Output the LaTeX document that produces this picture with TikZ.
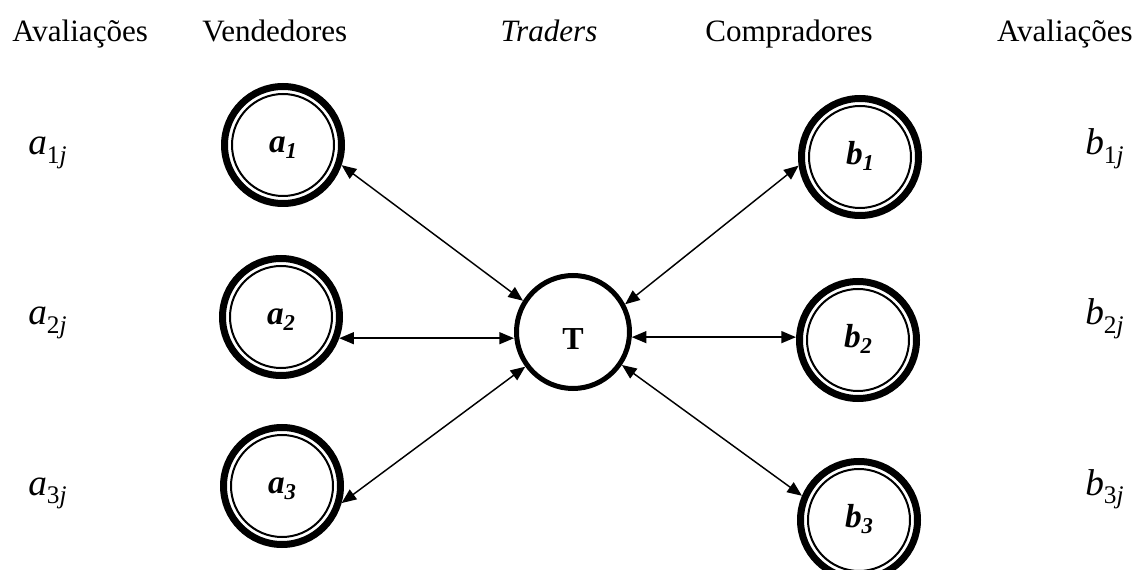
\documentclass[tikz,border=0pt]{standalone}
\usepackage{fontspec}
\setmainfont{Liberation Serif}
\usetikzlibrary{arrows.meta}

\tikzset{
  head/.style={font=\fontsize{23.3}{28}\selectfont, anchor=base, inner sep=0pt},
  val/.style={font=\fontsize{28}{32}\selectfont\itshape, anchor=base west, inner sep=0pt},
  agent/.style={circle, draw, line width=5.25pt, minimum size=87.75pt, inner sep=0pt,
    text height=11pt, text depth=0pt,
    font=\fontsize{25}{28}\selectfont\bfseries\itshape,
    path picture={\draw[line width=1.5pt] (path picture bounding box.center) circle[radius=38.25pt];}},
  trader/.style={circle, draw, line width=3.75pt, minimum size=84.75pt, inner sep=0pt,
    text height=26pt, text depth=0pt,
    font=\fontsize{24}{28}\selectfont\bfseries},
  link/.style={line width=1.1pt, {Triangle[length=11pt,width=9pt]}-{Triangle[length=11pt,width=9pt]}}
}
% subscript for the node names
\newcommand{\sub}[1]{\raisebox{-0.2em}{\fontsize{17}{17}\selectfont #1}}
% subscript "1j" etc. for the valuations
\newcommand{\vsub}[1]{\raisebox{-0.22em}{\fontsize{19}{19}\selectfont\upshape #1\itshape j}}

\begin{document}
\begin{tikzpicture}[x=0.75pt, y=-0.75pt]
\useasboundingbox (0,0) rectangle (1140,570);

% column headings
\node[head, anchor=base west] (h1) at (12,42) {Avaliações};
\node[head, anchor=base west] (h2) at (202,42) {Vendedores};
\node[head] (h3) at (549,42) {\itshape Traders};
\node[head] (h4) at (789,42) {Compradores};
\node[head, anchor=base east] (h5) at (1133,42) {Avaliações};

% valuations
\node[val] (va1) at (28,155) {a\vsub{1}};
\node[val] (va2) at (28,325) {a\vsub{2}};
\node[val] (va3) at (28,495) {a\vsub{3}};
\node[val] (vb1) at (1085,155) {b\vsub{1}};
\node[val] (vb2) at (1085,325) {b\vsub{2}};
\node[val] (vb3) at (1085,495) {b\vsub{3}};

% sellers, trader, buyers
\node[agent] (a1) at (283,145) {a\sub{1}};
\node[agent] (a2) at (281,317) {a\sub{2}};
\node[agent] (a3) at (282,486) {a\sub{3}};
\node[trader] (T) at (573,332) {T};
\node[agent] (b1) at (860,157) {b\sub{1}};
\node[agent] (b2) at (858,340) {b\sub{2}};
\node[agent] (b3) at (859,520) {b\sub{3}};

% links
\draw[link] (a1.-19) -- (T.148);
\draw[link] (a2.-20) -- (a2.-20 -| T.west);
\draw[link] (a3.-16) -- (T.216);
\draw[link] (T.28) -- (b1.188);
\draw[link] (T.-5) -- (T.-5 -| b2.west);
\draw[link] (T.-34) -- (b3.157);
\end{tikzpicture}
\end{document}
